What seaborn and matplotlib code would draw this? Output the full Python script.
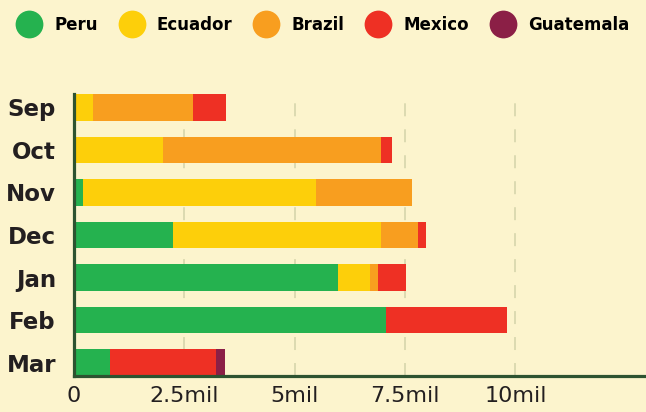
import pandas as pd
import seaborn as sns
import matplotlib.pyplot as plt
from matplotlib.lines import Line2D

# Data (millions)
months = ['Sep', 'Oct', 'Nov', 'Dec', 'Jan', 'Feb', 'Mar']
countries = ['Peru', 'Ecuador', 'Brazil', 'Mexico', 'Guatemala']
peru = [0, 0, 0.20, 2.24, 5.98, 7.06, 0.81]
ecuador = [0.44, 2.01, 5.28, 4.71, 0.72, 0, 0]
brazil = [2.25, 4.94, 2.18, 0.84, 0.18, 0, 0]
mexico = [0.75, 0.25, 0, 0.18, 0.64, 2.75, 2.40]
guatemala = [0, 0, 0, 0, 0, 0, 0.21]
colors = ['#25b24f', '#fdcf0a', '#f89e1f', '#ee3024', '#8b1f46']
xticks = [0, 2.5, 5, 7.5, 10]
xticklabels = ['0', '2.5mil', '5mil', '7.5mil', '10mil']

bg = '#fcf4cd'
df = pd.DataFrame({'month': months, 'Peru': peru, 'Ecuador': ecuador,
                   'Brazil': brazil, 'Mexico': mexico, 'Guatemala': guatemala})
cum = df[countries].cumsum(axis=1)

fig = plt.figure(figsize=(6.46, 4.12), dpi=100, facecolor=bg)
ax = fig.add_axes([74 / 646, 1 - 376 / 412, 1 - 74 / 646, (376 - 94) / 412])
ax.set_facecolor(bg)

# stacked bars: draw cumulative totals from widest to narrowest
for c, col in reversed(list(zip(countries, colors))):
    sns.barplot(x=cum[c], y=df['month'], orient='h', color=col,
                width=0.63, saturation=1, ax=ax, zorder=3)

ax.set_xlim(0, 12.96)
ax.set_ylim(6.315, -0.315)
ax.set_xticks(xticks)
ax.set_xticklabels(xticklabels, fontsize=16, color='#231f20')
ax.tick_params(axis='x', length=0, pad=7)
ax.tick_params(axis='y', length=0, pad=13)
for t in ax.get_yticklabels():
    t.set_fontweight('bold')
    t.set_fontsize(16.5)
    t.set_color('#231f20')
ax.set_xlabel('')
ax.set_ylabel('')

ax.set_axisbelow(True)
ax.grid(axis='x', linestyle=(0, (8.5, 8.5)), linewidth=1.1, color='#d3d3a9')
ax.grid(axis='y', visible=False)
for s in ['top', 'right']:
    ax.spines[s].set_visible(False)
for s in ['left', 'bottom']:
    ax.spines[s].set_color('#2d5330')
    ax.spines[s].set_linewidth(2.3)
    ax.spines[s].set_zorder(5)

handles = [Line2D([], [], marker='o', linestyle='', markersize=20,
                  markerfacecolor=col, markeredgewidth=0) for col in colors]
fig.legend(handles, countries, loc='center left',
           bbox_to_anchor=(15.7 / 646, 1 - 25 / 412), ncol=5, frameon=False,
           borderpad=0, borderaxespad=0, handlelength=1.6, handletextpad=0.7,
           columnspacing=1.24, prop={'weight': 'bold', 'size': 12})

fig.savefig('out.png', dpi=100, facecolor=bg)
